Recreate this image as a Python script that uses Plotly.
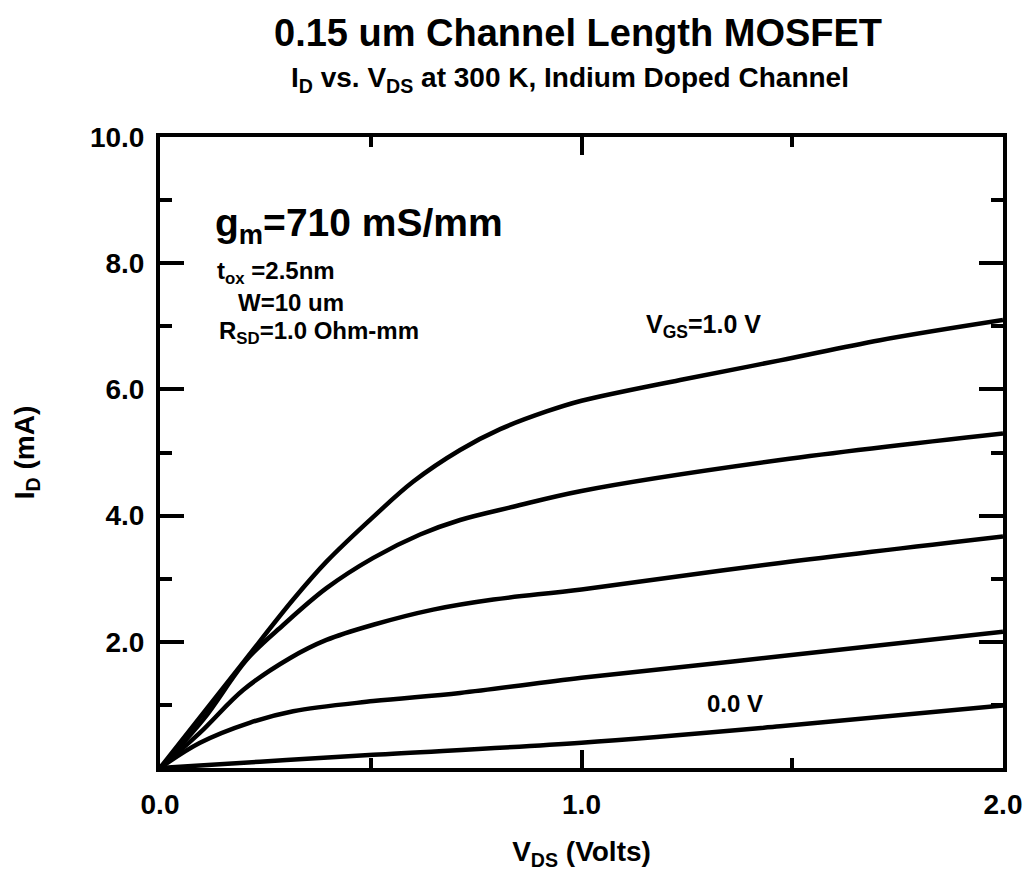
import plotly.graph_objects as go

# V_DS (Volts) and I_D (mA)
vgs_labels = ["1.0 V", "0.75 V", "0.5 V", "0.25 V", "0.0 V"]

x_top = [0.0, 0.19, 0.316, 0.395, 0.506, 0.601, 0.712, 0.807, 0.917, 1.0, 1.234, 1.471, 1.708, 2.0]
y_top = [0.0, 1.61, 2.67, 3.27, 3.98, 4.54, 5.04, 5.37, 5.65, 5.82, 6.15, 6.46, 6.78, 7.10]

x_2 = [0.0, 0.103, 0.206, 0.293, 0.395, 0.506, 0.617, 0.712, 0.838, 1.0, 1.471, 2.0]
y_2 = [0.0, 0.77, 1.72, 2.27, 2.85, 3.33, 3.70, 3.93, 4.14, 4.39, 4.88, 5.30]

x_3 = [0.0, 0.095, 0.198, 0.308, 0.395, 0.506, 0.648, 0.791, 1.0, 1.471, 2.0]
y_3 = [0.0, 0.56, 1.24, 1.74, 2.03, 2.27, 2.51, 2.67, 2.83, 3.25, 3.67]

x_4 = [0.0, 0.095, 0.214, 0.316, 0.506, 0.712, 1.0, 1.471, 2.0]
y_4 = [0.0, 0.40, 0.72, 0.90, 1.06, 1.19, 1.43, 1.77, 2.16]

x_5 = [0.0, 0.237, 0.506, 1.0, 1.471, 2.0]
y_5 = [0.0, 0.10, 0.21, 0.40, 0.66, 0.99]

x_ticks = [0, 1, 2]
x_ticklabels = ["0.0", "1.0", "2.0"]
y_ticks = [2, 4, 6, 8, 10]
y_ticklabels = ["2.0", "4.0", "6.0", "8.0", "10.0"]

FONT = "Liberation Sans"

fig = go.Figure()
for xs, ys, name in zip([x_top, x_2, x_3, x_4, x_5], [y_top, y_2, y_3, y_4, y_5], vgs_labels):
    fig.add_trace(go.Scatter(x=xs, y=ys, mode="lines", name=name,
                             line=dict(color="black", width=4.5, shape="spline", smoothing=1.0),
                             showlegend=False))

axis_common = dict(
    showgrid=False, zeroline=False, showline=True, linecolor="black", linewidth=4,
    mirror="allticks", ticks="inside", tickcolor="black", tickwidth=4, automargin=False,
    tickfont=dict(family=FONT, size=28, color="black", weight="bold"),
)

fig.update_xaxes(range=[0, 2], tickvals=x_ticks, ticktext=x_ticklabels, ticklen=18,
                 ticklabelstandoff=8,
                 minor=dict(dtick=0.5, ticks="inside", ticklen=10, tickwidth=4, tickcolor="black"),
                 title=dict(text="V<sub>DS</sub> (Volts)", font=dict(family=FONT, size=28, color="black", weight="bold"), standoff=24),
                 **axis_common)
fig.update_yaxes(range=[0, 10], tickvals=y_ticks, ticktext=y_ticklabels, ticklen=24,
                 ticklabelstandoff=6,
                 minor=dict(dtick=1, ticks="inside", ticklen=12, tickwidth=4, tickcolor="black"),
                 title=dict(text="I<sub>D</sub> (mA)", font=dict(family=FONT, size=28, color="black", weight="bold"), standoff=48),
                 **axis_common)

ann_font = dict(family=FONT, color="black", weight="bold")
annotations = [
    dict(text="0.15 um Channel Length MOSFET", x=578, y=33, size=38),
    dict(text="I<sub>D</sub> vs. V<sub>DS</sub> at 300 K, Indium Doped Channel", x=570, y=80, size=28),
]
for a in annotations:
    fig.add_annotation(text=a["text"], xref="paper", yref="paper",
                       x=(a["x"] - 160) / (1003 - 160), y=(768 - a["y"]) / (768 - 137),
                       xanchor="center", yanchor="middle", showarrow=False,
                       font=dict(size=a["size"], **ann_font))

# in-plot labels (data coordinates)
fig.add_annotation(text="g<sub>m</sub>=710 mS/mm", x=0.125, y=8.6, xanchor="left", yanchor="middle",
                   showarrow=False, font=dict(size=39, **ann_font))
fig.add_annotation(text="t<sub>ox</sub> =2.5nm", x=0.13, y=7.85, xanchor="left", yanchor="middle",
                   showarrow=False, font=dict(size=24, **ann_font))
fig.add_annotation(text="W=10 um", x=0.18, y=7.38, xanchor="left", yanchor="middle",
                   showarrow=False, font=dict(size=24, **ann_font))
fig.add_annotation(text="R<sub>SD</sub>=1.0 Ohm-mm", x=0.135, y=6.9, xanchor="left", yanchor="middle",
                   showarrow=False, font=dict(size=24, **ann_font))
fig.add_annotation(text="V<sub>GS</sub>=1.0 V", x=1.29, y=7.0, xanchor="center", yanchor="middle",
                   showarrow=False, font=dict(size=25, **ann_font))
fig.add_annotation(text="0.0 V", x=1.365, y=1.02, xanchor="center", yanchor="middle",
                   showarrow=False, font=dict(size=24, **ann_font))

fig.update_layout(width=1026, height=884, paper_bgcolor="white", plot_bgcolor="white",
                  margin=dict(l=160, r=23, t=137, b=116, autoexpand=False), showlegend=False,
                  font=dict(family=FONT, color="black"))

fig.write_html("out.html")
